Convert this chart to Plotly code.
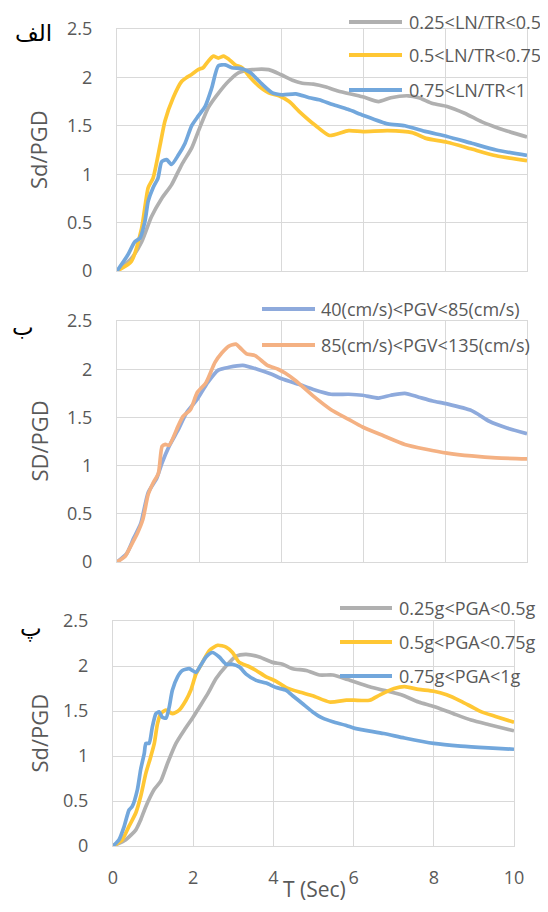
import plotly.graph_objects as go

# figure is drawn 16px smaller than the window so the page's default 8px body margin does not overflow
W, H = 532, 896
OFF = 8  # body margin in page pixels

# ---------------- data ----------------
# Panel a (الف): LN/TR groups
t_ln1 = [0, 0.35, 0.6, 0.84, 1.09, 1.33, 1.58, 1.82, 1.98, 2.23, 2.48, 2.72, 2.97, 3.3, 3.7, 3.99, 4.28, 4.52, 4.79, 5.1, 5.39, 5.99, 6.38, 6.68, 7.1, 7.36, 7.7, 8.05, 8.48, 8.9, 9.34, 10]
v_ln1 = [0, 0.13, 0.3, 0.56, 0.75, 0.89, 1.1, 1.27, 1.44, 1.69, 1.84, 1.96, 2.05, 2.08, 2.08, 2.03, 1.97, 1.94, 1.93, 1.9, 1.86, 1.8, 1.75, 1.79, 1.81, 1.79, 1.73, 1.7, 1.63, 1.54, 1.47, 1.385]

t_ln2 = [0, 0.35, 0.6, 0.76, 0.88, 1.05, 1.17, 1.37, 1.58, 1.7, 1.82, 1.98, 2.1, 2.23, 2.35, 2.47, 2.6, 2.72, 2.88, 3.05, 3.25, 3.46, 3.7, 3.95, 4.2, 4.44, 4.85, 5.18, 5.65, 6.0, 6.6, 7.2, 7.54, 8.05, 8.65, 9.25, 10]
v_ln2 = [0, 0.1, 0.44, 0.86, 0.96, 1.3, 1.55, 1.79, 1.96, 2.0, 2.03, 2.08, 2.1, 2.17, 2.22, 2.2, 2.22, 2.19, 2.13, 2.1, 2.0, 1.91, 1.84, 1.81, 1.75, 1.65, 1.5, 1.4, 1.45, 1.44, 1.45, 1.43, 1.37, 1.33, 1.26, 1.19, 1.14]

t_ln3 = [0, 0.27, 0.43, 0.56, 0.68, 0.76, 0.88, 1.0, 1.09, 1.21, 1.33, 1.5, 1.66, 1.82, 1.98, 2.15, 2.31, 2.47, 2.64, 2.8, 3.05, 3.25, 3.54, 3.79, 4.03, 4.36, 4.69, 4.93, 5.26, 5.63, 6.0, 6.6, 7.02, 7.54, 8.05, 8.65, 9.25, 10]
v_ln3 = [0, 0.17, 0.3, 0.34, 0.51, 0.72, 0.86, 0.96, 1.13, 1.15, 1.1, 1.2, 1.32, 1.5, 1.6, 1.7, 1.89, 2.12, 2.13, 2.1, 2.09, 2.05, 1.93, 1.84, 1.82, 1.83, 1.79, 1.77, 1.72, 1.67, 1.61, 1.52, 1.5, 1.44, 1.39, 1.32, 1.25, 1.195]

# Panel b (ب): PGV groups
t_pgv1 = [0, 0.24, 0.41, 0.58, 0.76, 0.97, 1.1, 1.27, 1.49, 1.7, 1.96, 2.21, 2.47, 2.73, 3.07, 3.42, 3.76, 4.02, 4.45, 4.79, 5.22, 5.65, 5.99, 6.38, 6.68, 7.02, 7.36, 7.7, 8.05, 8.65, 9.08, 9.51, 10]
v_pgv1 = [0, 0.09, 0.25, 0.4, 0.72, 0.87, 1.03, 1.2, 1.37, 1.55, 1.69, 1.86, 1.99, 2.02, 2.04, 2.0, 1.95, 1.9, 1.84, 1.79, 1.74, 1.74, 1.73, 1.7, 1.73, 1.75, 1.71, 1.67, 1.64, 1.57, 1.46, 1.39, 1.33]

t_pgv2 = [0, 0.2, 0.33, 0.5, 0.63, 0.76, 0.88, 1.01, 1.1, 1.18, 1.27, 1.49, 1.61, 1.79, 1.96, 2.17, 2.39, 2.56, 2.73, 2.9, 3.03, 3.16, 3.37, 3.67, 3.93, 4.1, 4.36, 4.79, 5.22, 5.65, 5.99, 6.5, 7.02, 7.54, 8.05, 8.65, 9.25, 10]
v_pgv2 = [0, 0.06, 0.16, 0.3, 0.44, 0.7, 0.82, 0.92, 1.2, 1.22, 1.21, 1.41, 1.51, 1.58, 1.76, 1.86, 2.07, 2.17, 2.24, 2.26, 2.21, 2.16, 2.14, 2.04, 2.0, 1.96, 1.88, 1.72, 1.58, 1.48, 1.4, 1.31, 1.22, 1.17, 1.13, 1.1, 1.08, 1.07]

# Panel c (پ): PGA groups
t_pga1 = [0, 0.32, 0.57, 0.69, 0.82, 1.03, 1.19, 1.36, 1.57, 1.78, 1.98, 2.15, 2.36, 2.57, 2.82, 3.07, 3.32, 3.65, 3.98, 4.23, 4.48, 4.82, 5.15, 5.48, 5.85, 6.4, 6.75, 7.19, 7.62, 8.0, 8.49, 8.93, 9.36, 10]
v_pga1 = [0, 0.07, 0.18, 0.29, 0.44, 0.63, 0.72, 0.92, 1.14, 1.29, 1.42, 1.54, 1.69, 1.86, 2.0, 2.11, 2.13, 2.1, 2.04, 2.02, 1.97, 1.95, 1.9, 1.9, 1.85, 1.77, 1.73, 1.68, 1.6, 1.55, 1.47, 1.4, 1.35, 1.28]

t_pga2 = [0, 0.23, 0.4, 0.57, 0.69, 0.82, 0.94, 1.03, 1.11, 1.19, 1.32, 1.48, 1.65, 1.82, 1.94, 2.07, 2.23, 2.4, 2.61, 2.82, 2.98, 3.15, 3.36, 3.57, 3.82, 4.07, 4.32, 4.65, 4.98, 5.4, 5.82, 6.01, 6.4, 6.66, 7.01, 7.27, 7.62, 8.0, 8.32, 8.67, 8.93, 9.19, 9.54, 10]
v_pga2 = [0, 0.07, 0.22, 0.37, 0.55, 0.81, 0.99, 1.14, 1.36, 1.47, 1.51, 1.47, 1.51, 1.62, 1.73, 1.91, 2.04, 2.17, 2.23, 2.21, 2.15, 2.04, 2.0, 1.95, 1.88, 1.83, 1.76, 1.71, 1.67, 1.6, 1.62, 1.62, 1.62, 1.68, 1.75, 1.77, 1.74, 1.72, 1.68, 1.61, 1.55, 1.49, 1.44, 1.375]

t_pga3 = [0, 0.15, 0.28, 0.4, 0.48, 0.61, 0.69, 0.78, 0.82, 0.9, 0.98, 1.07, 1.15, 1.23, 1.32, 1.4, 1.48, 1.61, 1.73, 1.9, 2.07, 2.19, 2.32, 2.48, 2.65, 2.82, 2.98, 3.15, 3.32, 3.57, 3.82, 4.07, 4.32, 4.48, 4.73, 4.98, 5.23, 5.48, 5.82, 6.01, 6.75, 7.27, 8.0, 8.67, 9.36, 10]
v_pga3 = [0, 0.07, 0.22, 0.4, 0.44, 0.63, 0.85, 1.03, 1.14, 1.14, 1.32, 1.47, 1.49, 1.43, 1.42, 1.54, 1.73, 1.88, 1.95, 1.97, 1.93, 2.01, 2.1, 2.15, 2.1, 2.02, 2.02, 1.99, 1.91, 1.84, 1.81, 1.76, 1.73, 1.67, 1.58, 1.49, 1.42, 1.38, 1.34, 1.31, 1.25, 1.2, 1.14, 1.11, 1.09, 1.075]

names_a = ["0.25<LN/TR<0.5", "0.5<LN/TR<0.75", "0.75<LN/TR<1"]
names_b = ["40(cm/s)<PGV<85(cm/s)", "85(cm/s)<PGV<135(cm/s)"]
names_c = ["0.25g<PGA<0.5g", "0.5g<PGA<0.75g", "0.75g<PGA<1g"]
panel_labels = ["الف", "ب", "پ"]
y_titles = ["Sd/PGD", "SD/PGD", "Sd/PGD"]
x_title = "T (Sec)"

GRAY, YELLOW, BLUE = "#b0b0b0", "#ffc734", "#72a7dc"
BLUE2, ORANGE = "#8eaadc", "#f4b183"

# ---------------- figure ----------------
fig = go.Figure()

def px_x(p):  # page pixel -> paper fraction
    return (p - OFF) / W

def px_y(p):
    return 1 - (p - OFF) / H

# plot boxes in page pixels (left, right, top, bottom)
boxes = {
    1: (117, 527, 29, 271),
    2: (117, 527, 321, 562),
    3: (113, 514, 621, 846),
}

series = [
    (1, t_ln1, v_ln1, names_a[0], GRAY),
    (1, t_ln2, v_ln2, names_a[1], YELLOW),
    (1, t_ln3, v_ln3, names_a[2], BLUE),
    (2, t_pgv1, v_pgv1, names_b[0], BLUE2),
    (2, t_pgv2, v_pgv2, names_b[1], ORANGE),
    (3, t_pga1, v_pga1, names_c[0], GRAY),
    (3, t_pga2, v_pga2, names_c[1], YELLOW),
    (3, t_pga3, v_pga3, names_c[2], BLUE),
]

for k, t, v, nm, col in series:
    sfx = "" if k == 1 else str(k)
    fig.add_trace(go.Scatter(x=t, y=v, mode="lines", name=nm,
                             line=dict(color=col, width=3.7, shape="spline", smoothing=0.6),
                             xaxis="x" + sfx, yaxis="y" + sfx, showlegend=False))

TICKFONT = dict(family="Open Sans", size=18, color="#595959")
GRID = "#d9d9d9"

layout = dict(width=W, height=H, margin=dict(l=0, r=0, t=0, b=0, autoexpand=False),
              paper_bgcolor="white", plot_bgcolor="white", showlegend=False)
for k, (x0, x1, y0, y1) in boxes.items():
    sfx = "" if k == 1 else str(k)
    layout["xaxis" + sfx] = dict(domain=[px_x(x0), px_x(x1)], range=[0, 10], dtick=2,
                                 showgrid=True, gridcolor=GRID, gridwidth=1, zeroline=False,
                                 showline=True, linecolor=GRID, linewidth=1, mirror=True,
                                 showticklabels=(k == 3), ticks="", tickfont=TICKFONT,
                                 ticklabelstandoff=15, anchor="y" + sfx, fixedrange=True)
    layout["yaxis" + sfx] = dict(domain=[px_y(y1), px_y(y0)], range=[0, 2.5], dtick=0.5,
                                 showgrid=True, gridcolor=GRID, gridwidth=1, zeroline=False,
                                 showline=True, linecolor=GRID, linewidth=1, mirror=True,
                                 ticks="", tickfont=TICKFONT, ticklabelstandoff=20,
                                 anchor="x" + sfx, fixedrange=True)
fig.update_layout(**layout)

ann = []
shapes = []
# y titles
for k, txt in zip([1, 2, 3], y_titles):
    x0, x1, y0, y1 = boxes[k]
    ann.append(dict(text=txt, xref="paper", yref="paper", x=px_x(38), y=px_y((y0 + y1) / 2),
                    textangle=-90, showarrow=False, xanchor="center", yanchor="middle",
                    font=dict(family="Open Sans", size=22, color="#595959")))
# panel labels
for (cx, cy), txt in zip([(33, 33), (23, 327), (31, 628)], panel_labels):
    ann.append(dict(text=txt, xref="paper", yref="paper", x=px_x(cx), y=px_y(cy),
                    showarrow=False, xanchor="center", yanchor="middle",
                    font=dict(family="DejaVu Sans", size=23, color="black")))
# x title (kept inside the figure's bottom edge)
ann.append(dict(text=x_title, xref="paper", yref="paper", x=px_x(314), y=0,
                showarrow=False, xanchor="center", yanchor="bottom", yshift=-1,
                font=dict(family="Open Sans", size=21, color="#595959")))

# legends
LEGFONT = dict(family="Open Sans", size=18, color="#595959")
legs = [
    (349, 402, 407, [22, 55, 90], names_a, [GRAY, YELLOW, BLUE]),
    (262, 315, 319, [309, 345], names_b, [BLUE2, ORANGE]),
    (340, 392, 397, [608, 642, 676], names_c, [GRAY, YELLOW, BLUE]),
]
for lx0, lx1, tx, ys, nms, cols in legs:
    for yy, nm, col in zip(ys, nms, cols):
        shapes.append(dict(type="line", xref="paper", yref="paper",
                           x0=px_x(lx0), x1=px_x(lx1), y0=px_y(yy), y1=px_y(yy),
                           line=dict(color=col, width=4)))
        ann.append(dict(text=nm, xref="paper", yref="paper", x=px_x(tx), y=px_y(yy),
                        showarrow=False, xanchor="left", yanchor="middle", font=LEGFONT))

fig.update_layout(annotations=ann, shapes=shapes)
fig.write_html("out.html")
